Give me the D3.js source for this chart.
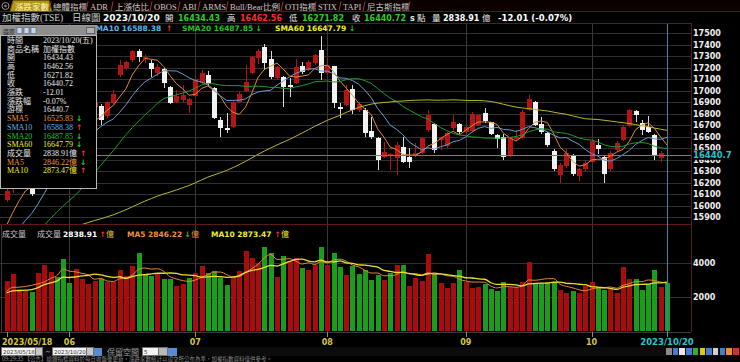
<!DOCTYPE html>
<html>
<head>
<meta charset="utf-8">
<script src="https://cdn.jsdelivr.net/npm/d3@7"></script>
<style>
  body { margin: 0; background: #000; overflow: hidden; }
  svg { display: block; }
  text { font-family: "DejaVu Sans", sans-serif; }
  .serif { font-family: "Liberation Serif", "Noto Sans CJK TC", serif; }
  .cjk { font-family: "Noto Sans CJK TC", sans-serif; }
</style>
</head>
<body>
<div id="chart"></div>
<script>
// 交易日 2023/05/18 ~ 2023/10/20
const dates = [
  '05/18','05/19','05/22','05/23','05/24','05/25','05/26','05/29','05/30','05/31',
  '06/01','06/02','06/05','06/06','06/07','06/08','06/09','06/12','06/13','06/14',
  '06/15','06/16','06/19','06/20','06/21','06/26','06/27','06/28','06/29','06/30',
  '07/03','07/04','07/05','07/06','07/07','07/10','07/11','07/12','07/13','07/14',
  '07/17','07/18','07/19','07/20','07/21','07/24','07/25','07/26','07/27','07/28',
  '07/31','08/01','08/02','08/04','08/07','08/08','08/09','08/10','08/11','08/14',
  '08/15','08/16','08/17','08/18','08/21','08/22','08/23','08/24','08/25','08/28',
  '08/29','08/30','08/31','09/01','09/04','09/05','09/06','09/07','09/08','09/11',
  '09/12','09/13','09/14','09/15','09/18','09/19','09/20','09/21','09/22','09/25',
  '09/26','09/27','09/28','10/02','10/03','10/04','10/05','10/06','10/11','10/12',
  '10/13','10/16','10/17','10/18','10/19','10/20'
];

// 開高低收
const opens = [
  16050,16140,16180,16200,16150,16150,16380,16560,16700,16620,
  16640,16580,16640,16780,16860,16865,16778,16891,17135,17193,
  17265,17343,17274,17239,17152,17187,17030,16904,16917,16874,
  16952,17065,17135,17022,16743,16674,16683,16903,16998,17152,
  17280,17378,17274,17108,17117,17048,17065,17213,17178,17239,
  17352,17155,17213,16857,16874,17013,16830,16830,16648,16587,
  16424,16430,16413,16509,16422,16439,16457,16657,16709,16570,
  16517,16674,16709,16639,16648,16700,16804,16722,16613,16596,
  16430,16578,16587,16830,16900,16709,16630,16478,16265,16343,
  16439,16257,16317,16378,16526,16422,16317,16483,16570,16691,
  16822,16717,16683,16613,16410,16434.43
];
const highs = [
  16140,16200,16230,16260,16170,16320,16540,16700,16720,16650,
  16660,16640,16780,16870,16910,16880,16910,17004,17265,17260,
  17355,17360,17310,17265,17230,17200,17040,17004,17048,16935,
  17110,17178,17170,17030,16770,16804,16910,16985,17222,17300,
  17360,17404,17345,17215,17125,17109,17274,17250,17265,17320,
  17474,17280,17213,16891,17048,17048,16900,16850,16770,16600,
  16555,16460,16555,16600,16500,16540,16600,16830,16720,16600,
  16640,16787,16720,16700,16810,16800,16848,16730,16620,16620,
  16600,16657,16830,16960,16910,16770,16640,16490,16370,16500,
  16450,16330,16400,16580,16574,16430,16470,16560,16700,16840,
  16830,16743,16778,16620,16475,16462.56
];
const lows = [
  16030,16110,16150,16180,16080,16140,16370,16540,16600,16550,
  16540,16560,16630,16760,16830,16700,16760,16880,17117,17180,
  17250,17248,17240,17120,17130,17022,16880,16890,16900,16804,
  16940,17055,17030,16750,16596,16630,16670,16890,16990,17140,
  17230,17178,17100,17095,16857,16946,17055,17140,17170,17220,
  17091,17140,16848,16761,16865,16800,16810,16600,16580,16309,
  16410,16309,16265,16370,16330,16420,16450,16640,16460,16480,
  16500,16660,16620,16620,16640,16690,16720,16610,16500,16400,
  16420,16560,16580,16820,16690,16620,16510,16300,16196,16330,
  16260,16209,16300,16370,16450,16196,16300,16470,16560,16680,
  16729,16613,16628,16396,16381,16271.82
];
const closes = [
  16130,16170,16200,16230,16100,16300,16520,16680,16640,16600,
  16560,16620,16760,16850,16890,16740,16903,16970,17222,17248,
  17343,17289,17291,17187,17207,17065,16891,16952,16961,16926,
  17100,17152,17057,16761,16674,16657,16900,16970,17074,17289,
  17343,17239,17117,17204,17030,17030,17204,17161,17252,17309,
  17152,17222,16891,16839,17004,16830,16883,16630,16596,16396,
  16468,16448,16526,16378,16378,16457,16587,16787,16483,16596,
  16630,16730,16635,16683,16796,16787,16735,16622,16578,16422,
  16587,16596,16813,16926,16700,16639,16526,16317,16352,16454,
  16274,16317,16370,16563,16487,16274,16457,16541,16683,16830,
  16787,16657,16639,16439,16452.73,16440.72
];
// 區間前 59 日收盤 (計算均線用)
const preCloses = [
  15550,15500,15560,15600,15480,15420,15390,15450,15520,15600,15680,15720,15790,15850,15880,
  15870,15900,15920,15880,15850,15820,15800,15860,15910,15950,
  15900,15860,15800,15760,15720,15650,15590,15560,15540,15480,
  15420,15400,15390,15450,15500,15520,15550,15580,15600,15570,
  15540,15500,15520,15560,15600,15640,15580,15550,15500,15470,
  15600,15700,15800,15900
];

// 成交量 (億) 與漲跌 (1 漲 / 0 跌)
const volumes = [
  2960,3333,2450,2390,2313,3392,3882,3490,3196,4235,
  2804,3666,3039,2765,2960,3039,2902,2902,3588,3235,
  3823,4607,3294,3255,3333,3039,3039,2647,2765,3100,
  3431,3823,3431,3549,3100,2706,3100,3549,4725,4294,
  3980,4960,4607,3196,4412,4078,4274,3725,3588,3882,
  4960,3882,4607,3784,3294,3823,3353,3588,3000,3294,
  3000,3392,3882,3882,2647,3098,2960,4529,3353,2843,
  2549,2843,3588,2902,2510,2568,2765,2451,2353,2902,
  2568,2568,2902,4078,2804,2804,2804,2902,2412,2216,
  2372,2216,2647,2882,2568,2412,2451,2255,3745,3039,
  3039,2412,2765,3588,2568,2838.91
];
const volUp = [
  1,1,1,1,0,1,1,1,0,0, 0,1,1,1,1,0,1,1,1,1,
  1,0,0,0,1,0,0,1,1,0, 1,1,0,0,0,0,1,1,1,1,
  1,0,0,1,0,1,1,0,1,1, 0,1,0,0,1,0,0,0,0,0,
  1,0,1,0,1,1,1,1,0,1, 1,1,0,1,1,1,0,0,0,0,
  1,1,1,1,0,0,0,0,1,1, 0,1,1,1,0,0,1,1,1,1,
  0,0,0,0,1,0
];
const preVolumes = [2050,2300,2150,2000,2250,2100,2400,2200,1950];

const priceTicks = [15900,16000,16100,16200,16300,16400,16500,16600,16700,16800,16900,17000,17100,17200,17300,17400,17500];
const volTicks = [2000, 4000];
const tickDates = ['05/18','06/01','07/03','08/01','09/01','10/02','10/20'];
const tickLabels = ['2023/05/18','06','07','08','09','10','2023/10/20'];
const cursorPrice = 16440.7;

const tabs = ['總體指標','ADR','上漲估比','OBOS','ABI','ARMS','Bull/Bear比例','OTI指標','STIX','TAPI','尼古斯指標'];

const infoRows = [
  ['時間','2023/10/20(五)',''],
  ['商品名稱','加權指數',''],
  ['開','16434.43',''],
  ['高','16462.56',''],
  ['低','16271.82',''],
  ['收','16440.72',''],
  ['漲跌','-12.01',''],
  ['漲跌幅','-0.07%',''],
  ['游標','16440.7',''],
  ['SMA5','16525.83','down'],
  ['SMA10','16588.38','up'],
  ['SMA20','16487.85','down'],
  ['SMA60','16647.79','down'],
  ['成交量','2838.91億','up'],
  ['MA5','2846.22億','down'],
  ['MA10','2873.47億','up']
];

// ---------- 版面 ----------
const plotR = 691;
const mainTop = 24, mainBot = 224, volTop = 226, volBot = 332;
const RED = '#b41414', GREEN = '#1a9e1a';
const UP = '#ff2a2a', DOWN = '#22d022';
const maColor = { SMA5: '#e08a35', SMA10: '#6a9ccc', SMA20: '#1f9a2e', SMA60: '#b8b82a', MA5: '#e8873a', MA10: '#e8e030' };
const txtColor = { SMA5: '#f0903a', SMA10: '#5cb4ec', SMA20: '#22c022', SMA60: '#f2f020', MA5: '#f0903a', MA10: '#f2f020' };

const svg = d3.select('#chart').append('svg').attr('width', 740).attr('height', 362);
svg.append('rect').attr('width', 740).attr('height', 362).attr('fill', '#000');

const x = d3.scalePoint().domain(dates).range([6.5, 667]);
const y = d3.scaleLinear().domain([15900, 17500]).range([217, 33]);
const yv = d3.scaleLinear().domain([0, 4000]).range([331, 263]);

const defs = svg.append('defs');
defs.append('clipPath').attr('id', 'clipMain').append('rect')
  .attr('x', 0).attr('y', mainTop).attr('width', plotR).attr('height', mainBot - mainTop);
defs.append('clipPath').attr('id', 'clipVol').append('rect')
  .attr('x', 0).attr('y', volTop).attr('width', plotR).attr('height', volBot - volTop);

// 均線
const movingAvg = (values, pre, n) => {
  const all = pre.concat(values);
  return values.map((_, i) => d3.mean(all.slice(i + pre.length - n + 1, i + pre.length + 1)));
};
const sma = {
  SMA5: movingAvg(closes, preCloses, 5),
  SMA10: movingAvg(closes, preCloses, 10),
  SMA20: movingAvg(closes, preCloses, 20),
  SMA60: movingAvg(closes, preCloses, 60)
};
const vma = {
  MA5: movingAvg(volumes, preVolumes, 5),
  MA10: movingAvg(volumes, preVolumes, 10)
};

const px = d => Math.round(x(d)) + 0.5;

// ---------- 格線 ----------
const grid = svg.append('g').attr('shape-rendering', 'crispEdges');
grid.selectAll('line.h').data(priceTicks).join('line')
  .attr('x1', 0).attr('x2', plotR)
  .attr('y1', d => Math.round(y(d)) + 0.5).attr('y2', d => Math.round(y(d)) + 0.5)
  .attr('stroke', '#303030');
grid.selectAll('line.vh').data(volTicks).join('line')
  .attr('x1', 0).attr('x2', plotR)
  .attr('y1', d => Math.round(yv(d)) + 0.5).attr('y2', d => Math.round(yv(d)) + 0.5)
  .attr('stroke', '#303030');
grid.selectAll('line.v').data(tickDates.slice(1, -1)).join('line')
  .attr('x1', px).attr('x2', px).attr('y1', mainTop).attr('y2', volBot)
  .attr('stroke', '#383838');

// 邊框
const frame = svg.append('g').attr('shape-rendering', 'crispEdges').attr('fill', 'none');
frame.append('line').attr('x1', 0).attr('x2', plotR + 0.5).attr('y1', 23.5).attr('y2', 23.5).attr('stroke', '#5e1a1a');
frame.append('line').attr('x1', 0).attr('x2', plotR + 0.5).attr('y1', 224.5).attr('y2', 224.5).attr('stroke', '#5e1a1a');
frame.append('line').attr('x1', plotR + 0.5).attr('x2', plotR + 0.5).attr('y1', 23.5).attr('y2', volBot).attr('stroke', '#5e1a1a');
frame.append('line').attr('x1', 1.5).attr('x2', 1.5).attr('y1', 225).attr('y2', volBot).attr('stroke', '#3a3a3a');
frame.append('line').attr('x1', 0).attr('x2', plotR).attr('y1', volBot + 0.5).attr('y2', volBot + 0.5).attr('stroke', '#3a3a3a');

// ---------- K 線 ----------
const candles = dates.map((d, i) => ({ d, o: opens[i], h: highs[i], l: lows[i], c: closes[i] }));
const bw = Math.round(x.step() * 0.72);
const main = svg.append('g').attr('clip-path', 'url(#clipMain)');
const kg = main.append('g').attr('shape-rendering', 'crispEdges');
kg.selectAll('line').data(candles).join('line')
  .attr('x1', d => px(d.d)).attr('x2', d => px(d.d))
  .attr('y1', d => y(d.h)).attr('y2', d => y(d.l))
  .attr('stroke', d => d.c >= d.o ? RED : '#d8d8d8');
kg.selectAll('rect').data(candles).join('rect')
  .attr('x', d => Math.round(x(d.d)) - Math.floor(bw / 2))
  .attr('y', d => y(Math.max(d.o, d.c)))
  .attr('width', bw)
  .attr('height', d => Math.max(1, Math.abs(y(d.o) - y(d.c))))
  .attr('fill', d => d.c >= d.o ? RED : '#f2f2f2');

const priceLine = d3.line().x((d, i) => x(dates[i])).y(d => y(d));
Object.keys(sma).forEach(k => {
  main.append('path').attr('d', priceLine(sma[k]))
    .attr('fill', 'none').attr('stroke', maColor[k]).attr('stroke-width', 1);
});

// ---------- 成交量 ----------
const vol = svg.append('g').attr('clip-path', 'url(#clipVol)');
const vbw = Math.round(x.step() * 0.86);
vol.append('g').attr('shape-rendering', 'crispEdges')
  .selectAll('rect').data(volumes).join('rect')
  .attr('x', (d, i) => Math.round(x(dates[i])) - Math.floor(vbw / 2))
  .attr('y', d => yv(d))
  .attr('width', vbw)
  .attr('height', d => yv(0) - yv(d))
  .attr('fill', (d, i) => volUp[i] ? '#a80c0c' : GREEN);
const volLine = d3.line().x((d, i) => x(dates[i])).y(d => yv(d)).curve(d3.curveMonotoneX);
Object.keys(vma).forEach(k => {
  vol.append('path').attr('d', volLine(vma[k]))
    .attr('fill', 'none').attr('stroke', maColor[k]).attr('stroke-width', k === 'MA10' ? 1.3 : 1);
});

// ---------- 游標十字線 ----------
const last = dates[dates.length - 1];
svg.append('line').attr('x1', 0).attr('x2', plotR).attr('y1', Math.round(y(cursorPrice)) + 0.5).attr('y2', Math.round(y(cursorPrice)) + 0.5)
  .attr('stroke', '#20a0a0').attr('shape-rendering', 'crispEdges');
svg.append('line').attr('x1', px(last)).attr('x2', px(last)).attr('y1', mainTop).attr('y2', volBot)
  .attr('stroke', '#2a8aa8').attr('shape-rendering', 'crispEdges');

// ---------- 右側刻度 ----------
const axisTxt = svg.append('g').attr('font-size', 8).attr('font-weight', 'bold').attr('fill', '#f0f0f0');
axisTxt.selectAll('text.p').data(priceTicks).join('text')
  .attr('x', 693).attr('y', d => y(d) + 3).text(d => d);
axisTxt.selectAll('text.v').data(volTicks).join('text')
  .attr('x', 693).attr('y', d => yv(d) + 3).text(d => d);
svg.append('rect').attr('x', 692).attr('y', y(cursorPrice) - 4.5).attr('width', 48).attr('height', 9.5).attr('fill', '#000');
svg.append('text').attr('x', 693).attr('y', y(cursorPrice) + 3.5)
  .attr('font-size', 8.5).attr('font-weight', 'bold').attr('fill', '#22c8d0').text(cursorPrice);

// ---------- 文字放置 ----------
const place = (g, yb, size, items) => {
  items.forEach(it => {
    g.append('text').attr('x', it.x).attr('y', yb).attr('font-size', it.size || size)
      .attr('font-weight', it.cjk ? 'normal' : 'bold').attr('fill', it.color)
      .attr('class', it.cjk ? 'cjk' : null).text(it.text);
  });
};

// 均線圖例 (SMA5 被資訊視窗遮住)
place(svg.append('g'), 31, 7.5, [
  { x: 90, text: 'SMA10 16588.38', color: txtColor.SMA10 }, { x: 166, text: '↑', color: UP },
  { x: 182, text: 'SMA20 16487.85', color: txtColor.SMA20 }, { x: 255.5, text: '↓', color: DOWN },
  { x: 275, text: 'SMA60 16647.79', color: txtColor.SMA60 }, { x: 349, text: '↓', color: DOWN }
]);

// 成交量圖例
place(svg.append('g'), 237, 7.5, [
  { x: 2, text: '成交量', color: '#c8c8c8', cjk: true, size: 8 },
  { x: 37, text: '成交量', color: '#c8c8c8', cjk: true, size: 8 },
  { x: 63, text: '2838.91', color: '#ffffff' }, { x: 99.5, text: '↑', color: UP },
  { x: 106, text: '億', color: '#e8c040', cjk: true, size: 8 },
  { x: 127, text: 'MA5 2846.22', color: txtColor.MA5 }, { x: 184.5, text: '↓', color: DOWN },
  { x: 191, text: '億', color: txtColor.MA5, cjk: true, size: 8 },
  { x: 211, text: 'MA10 2873.47', color: txtColor.MA10 }, { x: 274.5, text: '↑', color: UP },
  { x: 281, text: '億', color: txtColor.MA10, cjk: true, size: 8 }
]);

// ---------- 日期軸 ----------
const xa = svg.append('g');
xa.selectAll('line').data(tickDates).join('line')
  .attr('x1', px).attr('x2', px).attr('y1', volBot).attr('y2', volBot + 5)
  .attr('stroke', '#8a8a8a').attr('shape-rendering', 'crispEdges');
xa.selectAll('text').data(tickDates).join('text')
  .attr('x', (d, i) => i === 0 ? 2 : x(d))
  .attr('y', 345)
  .attr('text-anchor', (d, i) => i === 0 ? 'start' : 'middle')
  .attr('font-size', (d, i) => i === tickDates.length - 1 ? 8.5 : 8)
  .attr('font-weight', 'bold')
  .attr('fill', (d, i) => i === tickDates.length - 1 ? '#22c8d0' : '#d8c838')
  .text((d, i) => tickLabels[i]);

// ---------- 頁籤 ----------
const tabBar = svg.append('g');
tabBar.append('rect').attr('x', 0).attr('y', 0).attr('width', 740).attr('height', 12).attr('fill', '#0a0000');
tabBar.append('line').attr('x1', 0).attr('x2', 740).attr('y1', 11.5).attr('y2', 11.5).attr('stroke', '#5a1616');
tabBar.append('circle').attr('cx', 5.5).attr('cy', 6).attr('r', 3.5).attr('fill', 'none').attr('stroke', '#909090');
tabBar.append('circle').attr('cx', 5.5).attr('cy', 6).attr('r', 1.2).attr('fill', '#909090');
tabBar.append('path').attr('d', 'M10,11.5 L13,0.5 L49,0.5 L52,11.5 Z').attr('fill', '#b29612').attr('stroke', '#6a5a00');
tabBar.append('text').attr('class', 'serif').attr('x', 15).attr('y', 9.5).attr('font-size', 8.5)
  .attr('fill', '#fff6c0').text('漲跌家數');
const tabX = [53, 90, 115, 154, 182, 202, 230, 285, 318, 343, 367];
tabs.forEach((t, i) => {
  tabBar.append('line').attr('x1', tabX[i] - 4).attr('x2', tabX[i] - 2).attr('y1', 11).attr('y2', 1.5)
    .attr('stroke', '#8a3a3a');
  tabBar.append('text').attr('class', 'serif').attr('x', tabX[i]).attr('y', 9.5).attr('font-size', 8.5)
    .attr('fill', '#c8c8c8').text(t);
});
tabBar.append('line').attr('x1', 408).attr('x2', 410).attr('y1', 11).attr('y2', 1.5).attr('stroke', '#8a3a3a');

// 報價列
const quote = svg.append('g');
quote.append('text').attr('class', 'serif').attr('x', 2).attr('y', 21).attr('font-size', 9.5).attr('fill', '#d0d0d0').text('加權指數(TSE)');
quote.append('text').attr('class', 'serif').attr('x', 72).attr('y', 21).attr('font-size', 9.5).attr('fill', '#d0d0d0').text('日線圖');
place(quote, 21, 8, [
  { x: 103, text: '2023/10/20', color: '#ffffff', size: 9 },
  { x: 165, text: '開', color: '#e8e8e8', cjk: true, size: 8.5 },
  { x: 178, text: '16434.43', color: DOWN },
  { x: 227, text: '高', color: '#e8e8e8', cjk: true, size: 8.5 },
  { x: 240, text: '16462.56', color: UP },
  { x: 289, text: '低', color: '#e8e8e8', cjk: true, size: 8.5 },
  { x: 302, text: '16271.82', color: DOWN },
  { x: 352, text: '收', color: '#e8e8e8', cjk: true, size: 8.5 },
  { x: 364, text: '16440.72', color: DOWN },
  { x: 410, text: 's', color: '#e8e8e8' },
  { x: 417, text: '點', color: '#e8e8e8', cjk: true, size: 8.5 },
  { x: 432, text: '量', color: '#e8e8e8', cjk: true, size: 8.5 },
  { x: 443, text: '2838.91', color: '#ffffff' },
  { x: 482, text: '億', color: '#e8e8e8', cjk: true, size: 8.5 },
  { x: 498, text: '-12.01 (-0.07%)', color: '#ffffff', size: 8.5 }
]);

// ---------- 資訊視窗 ----------
const box = svg.append('g');
box.append('rect').attr('x', 0.5).attr('y', 25.5).attr('width', 96).attr('height', 163)
  .attr('fill', '#000').attr('stroke', '#9a9a9a').attr('shape-rendering', 'crispEdges');
box.append('rect').attr('x', 1).attr('y', 26).attr('width', 95).attr('height', 9).attr('fill', '#8e8e8e');
box.append('text').attr('class', 'cjk').attr('x', 3).attr('y', 33.5).attr('font-size', 6).attr('fill', '#202020').text('還原');
[17, 24, 31].forEach(cx => box.append('rect').attr('x', cx).attr('y', 27.5).attr('width', 5).attr('height', 6)
  .attr('fill', '#c8d4e8').attr('stroke', '#506080').attr('stroke-width', 0.6));
box.append('rect').attr('x', 86.5).attr('y', 27.5).attr('width', 8).attr('height', 6).attr('fill', '#b0b0b0').attr('stroke', '#606060');
box.append('rect').attr('x', 0.5).attr('y', 35.5).attr('width', 96).attr('height', 153).attr('fill', 'none')
  .attr('stroke', '#b8b8b8').attr('shape-rendering', 'crispEdges');
infoRows.forEach((r, i) => {
  const yb = 42.8 + i * 8.71;
  const c = txtColor[r[0]] || '#e8e8e8';
  box.append('text').attr('class', 'serif').attr('x', 7).attr('y', yb).attr('font-size', 8).attr('fill', c).text(r[0]);
  const t = box.append('text').attr('class', 'serif').attr('x', 43).attr('y', yb).attr('font-size', 8).attr('fill', c).text(r[1]);
  if (r[2]) {
    box.append('text').attr('x', 43 + t.node().getComputedTextLength() + 3).attr('y', yb).attr('font-size', 7.5)
      .attr('font-weight', 'bold').attr('fill', r[2] === 'up' ? UP : DOWN).text(r[2] === 'up' ? '↑' : '↓');
  }
});

// ---------- 工具列 ----------
const tb = svg.append('g').attr('shape-rendering', 'crispEdges');
tb.append('rect').attr('x', 0).attr('y', 347).attr('width', 740).attr('height', 9).attr('fill', '#0c0c0c');
const inputBox = (x0, w, label) => {
  tb.append('rect').attr('x', x0).attr('y', 347.5).attr('width', w).attr('height', 8).attr('fill', '#f4f4f4').attr('stroke', '#707070');
  tb.append('text').attr('x', x0 + 2).attr('y', 354).attr('font-size', 5.5).attr('fill', '#303030').text(label);
};
inputBox(1, 34, tickLabels[0]);
tb.append('rect').attr('x', 35).attr('y', 347.5).attr('width', 7).attr('height', 8).attr('fill', '#c8c8c8').attr('stroke', '#707070');
tb.append('text').attr('x', 45).attr('y', 354).attr('font-size', 7).attr('fill', '#c0c0c0').text('~');
inputBox(52, 34, tickLabels[6]);
tb.append('rect').attr('x', 86).attr('y', 347.5).attr('width', 7).attr('height', 8).attr('fill', '#c8c8c8').attr('stroke', '#707070');
tb.append('rect').attr('x', 94).attr('y', 347.5).attr('width', 8).attr('height', 8).attr('fill', '#5a8ad0');
tb.append('text').attr('class', 'cjk').attr('x', 107).attr('y', 354.5).attr('font-size', 8).attr('fill', '#9a9a9a').text('保留空間');
inputBox(142, 16, '5');
tb.append('rect').attr('x', 158).attr('y', 347.5).attr('width', 9).attr('height', 8).attr('fill', '#b8b8b8').attr('stroke', '#707070');
tb.append('rect').attr('x', 168).attr('y', 347.5).attr('width', 9).attr('height', 8).attr('fill', '#5a8ad0');
['#8a8a8a', '#4a7ad0', '#e8e8e8', '#4a7ad0', '#30b030', '#d8c820', '#4a7ad0', '#d0d0d0', '#4a7ad0', '#e89030', '#d03030']
  .forEach((c, i) => tb.append('rect').attr('x', 666 + i * 6.7).attr('y', 348).attr('width', 5.5).attr('height', 7).attr('fill', c));

// 狀態列
svg.append('text').attr('class', 'cjk').attr('x', 2).attr('y', 361).attr('font-size', 5.5).attr('fill', '#8a8a8a')
  .text('09:29:35  【公告】總體指標資料於每日收盤後更新，漲跌家數統計以證交所公布為準，加權指數資料僅供參考。');
</script>
</body>
</html>
